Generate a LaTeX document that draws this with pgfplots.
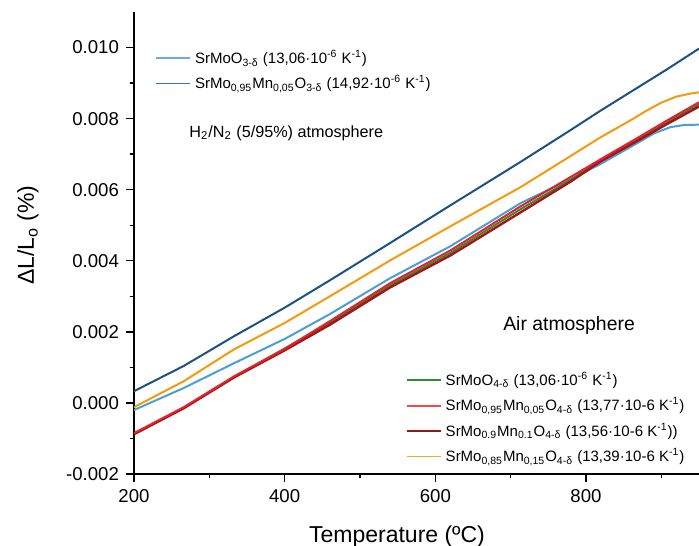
\documentclass[border=0pt]{standalone}
\usepackage{fontspec}
\setmainfont{Liberation Sans}
\usepackage{pgfplots}
\pgfplotsset{compat=1.18}
\definecolor{dblue}{HTML}{1B5282}
\definecolor{lblue}{HTML}{4A9FD4}
\definecolor{orng}{HTML}{F59A0C}
\definecolor{rred}{HTML}{E8202A}
\definecolor{dred}{HTML}{A0161C}
\definecolor{ggreen}{HTML}{2E8B2E}
\definecolor{leglblue}{HTML}{6FAAD6}
\definecolor{legdblue}{HTML}{3F739B}
\definecolor{legred}{HTML}{F04A4A}
\definecolor{legdred}{HTML}{8B1A1A}
\definecolor{legorng}{HTML}{F5A830}
\pgfplotsset{
  common/.style={
    scale only axis, width=282.5pt, height=231pt,
    xmin=200, xmax=950, ymin=-0.002, ymax=0.011,
    legend style={draw=none, fill=none, inner sep=0pt,
      font=\fontsize{7.5}{9}\selectfont, row sep=3.6pt, column sep=1.5pt,
      nodes={inner sep=0.5pt}},
    legend cell align=left,
  }
}
\begin{document}
\begin{tikzpicture}
\begin{axis}[common, name=ax,
  axis x line=bottom, axis y line=left,
  axis line style={-, line width=0.7pt},
  xtick={200,400,600,800}, minor xtick={300,500,700,900},
  ytick={-0.002,0,0.002,0.004,0.006,0.008,0.010},
  minor ytick={-0.001,0.001,0.003,0.005,0.007,0.009},
  tick align=outside, major tick length=4pt, minor tick length=2.2pt,
  tick style={line width=0.7pt, black},
  scaled y ticks=false,
  yticklabel style={/pgf/number format/.cd, fixed, fixed zerofill, precision=3, assume math mode=true},
  xticklabel style={/pgf/number format/assume math mode=true},
  ticklabel style={font=\fontsize{9.3}{10}\selectfont},
  xlabel={Temperature (ºC)},
  xlabel style={font=\fontsize{11.5}{12}\selectfont, at={(rel axis cs:0.4655,0)}, anchor=base, yshift=-34pt},
  ylabel={ΔL/L\textsubscript{o} (\%)},
  ylabel style={font=\fontsize{11.5}{12}\selectfont, at={(rel axis cs:0,0.517)}, anchor=center, yshift=53pt},
  legend style={at={(rel axis cs:0.0372,0.921)}, anchor=north west},
]
\addplot[lblue, line width=1pt, forget plot] coordinates {
(200,-0.00020) (266,0.00042) (333,0.00112) (400,0.00180) (460,0.00250) (540,0.00351)
(620,0.00441) (713,0.00562) (779,0.00629) (819,0.00672) (863,0.00725) (890,0.00758)
(912,0.00776) (930,0.00782) (950,0.00783)};
\addplot[dblue, line width=1pt, forget plot] coordinates {
(200,0.00033) (266,0.00104) (333,0.00188) (400,0.00268) (460,0.00345)
(540,0.00450) (620,0.00556) (713,0.00678) (779,0.00767) (819,0.00822) (863,0.00880)
(907,0.00938) (950,0.00997)};
\addlegendimage{leglblue, line width=0.75pt}
\addlegendentry{SrMoO\textsubscript{3-δ} (13,06·10\textsuperscript{-6} K\textsuperscript{-1})}
\addlegendimage{legdblue, line width=0.75pt}
\addlegendentry{SrMo\textsubscript{0,95}Mn\textsubscript{0,05}O\textsubscript{3-δ} (14,92·10\textsuperscript{-6} K\textsuperscript{-1})}
\node[anchor=west, inner sep=0pt, font=\fontsize{8.1}{9}\selectfont] at (rel axis cs:0.0973,0.738)
  {H\textsubscript{2}/N\textsubscript{2} (5/95\%) atmosphere};
\node[font=\fontsize{9.7}{11}\selectfont] at (rel axis cs:0.770,0.3225) {Air atmosphere};
\end{axis}
\begin{axis}[common, at={(ax.south west)}, anchor=south west,
  axis lines=none, ticks=none,
  legend style={at={(rel axis cs:0.480,0.2242)}, anchor=north west},
]
\addplot[ggreen, line width=1pt, forget plot] coordinates {
(200,-0.00087) (266,-0.00014) (333,0.00073) (460,0.00225) (540,0.00331) (620,0.00422)
(713,0.00545) (779,0.00627) (819,0.00682) (863,0.00735) (907,0.00789) (950,0.00840)};
\addplot[orng, line width=1pt, forget plot] coordinates {
(200,-0.00012) (266,0.00061) (333,0.00151) (400,0.00225) (460,0.00300) (540,0.00401)
(620,0.00497) (713,0.00607) (779,0.00694) (819,0.00747) (863,0.00800) (880,0.00822)
(900,0.00845) (920,0.00862) (940,0.00871) (950,0.00874)};
\addplot[dred, line width=1.2pt, forget plot] coordinates {
(200,-0.00088) (266,-0.00015) (333,0.00072) (400,0.00148) (460,0.00220) (540,0.00325)
(620,0.00415) (713,0.00536) (779,0.00622) (819,0.00679) (863,0.00731) (907,0.00784)
(950,0.00834)};
\addplot[rred, line width=1pt, forget plot] coordinates {
(200,-0.00085) (266,-0.00012) (333,0.00075) (400,0.00152) (460,0.00230) (540,0.00337)
(620,0.00429) (713,0.00553) (779,0.00635) (819,0.00685) (863,0.00739) (907,0.00794)
(950,0.00846)};
\addlegendimage{ggreen, line width=0.75pt}
\addlegendentry{SrMoO\textsubscript{4-δ} (13,06·10\textsuperscript{-6} K\textsuperscript{-1})}
\addlegendimage{legred, line width=1pt}
\addlegendentry{SrMo\textsubscript{0,95}Mn\textsubscript{0,05}O\textsubscript{4-δ} (13,77·10-6 K\textsuperscript{-1})}
\addlegendimage{legdred, line width=0.75pt}
\addlegendentry{SrMo\textsubscript{0.9}Mn\textsubscript{0.1}O\textsubscript{4-δ} (13,56·10-6 K\textsuperscript{-1}))}
\addlegendimage{legorng, line width=0.75pt}
\addlegendentry{SrMo\textsubscript{0,85}Mn\textsubscript{0,15}O\textsubscript{4-δ} (13,39·10-6 K\textsuperscript{-1})}
\end{axis}
\pgfresetboundingbox
\path (-67pt,-35.5pt) rectangle (282.5pt,237pt);
\end{tikzpicture}
\end{document}
